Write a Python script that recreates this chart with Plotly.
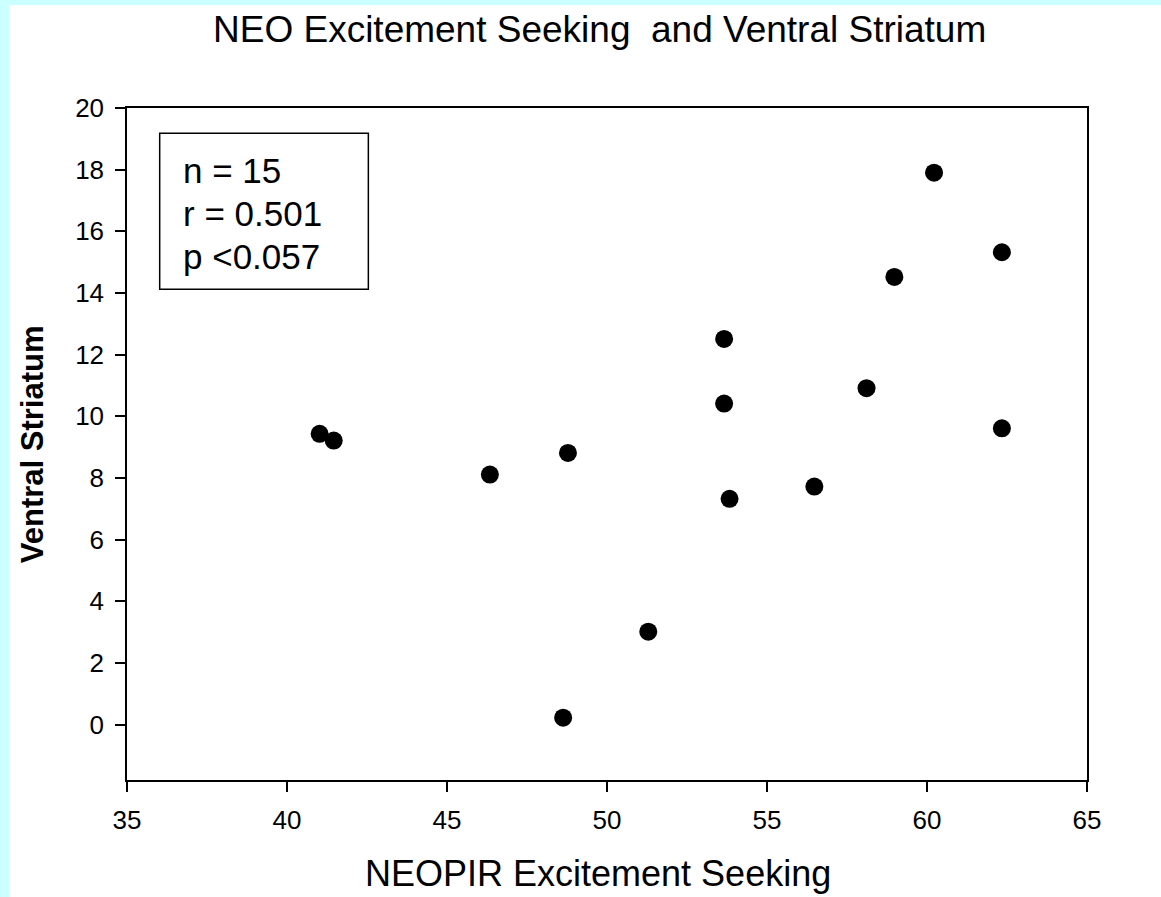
import plotly.graph_objects as go

# Data
excitement_seeking = [41.02, 41.46, 46.34, 48.78, 48.63, 51.29, 53.66, 53.66,
                      53.83, 56.48, 58.11, 60.22, 58.98, 62.34, 62.34]
ventral_striatum = [9.43, 9.21, 8.11, 8.81, 0.22, 3.01, 12.51, 10.41,
                    7.32, 7.72, 10.91, 17.90, 14.52, 15.32, 9.61]
x_ticks = [35, 40, 45, 50, 55, 60, 65]
y_ticks = [0, 2, 4, 6, 8, 10, 12, 14, 16, 18, 20]
stats_lines = ["n = 15", "r = 0.501", "p <0.057"]

W, H = 1161, 897
L, R, T, B = 127.3, 1087.5, 108, 780

def px2paper_x(px):
    return (px - L) / (R - L)

def px2paper_y(py):
    return (B - py) / (B - T)

fig = go.Figure()
fig.add_trace(go.Scatter(
    x=excitement_seeking, y=ventral_striatum, mode="markers",
    marker=dict(size=18, color="black", line=dict(width=0)),
    showlegend=False, hoverinfo="x+y"))

font_family = "Liberation Sans, Arial, sans-serif"

axis_common = dict(
    showline=True, linecolor="black", linewidth=1.5, mirror=True,
    ticks="outside", ticklen=10, tickwidth=1.5, tickcolor="black",
    showgrid=False, zeroline=False,
    tickfont=dict(family=font_family, size=26, color="black"),
    ticklabelstandoff=6,
)

fig.update_layout(
    width=W, height=H,
    margin=dict(l=L, r=W - R, t=T, b=H - B, pad=0),
    paper_bgcolor="#CCFFFF", plot_bgcolor="white",
    xaxis=dict(range=[35, 65], tickvals=x_ticks, **axis_common),
    yaxis=dict(range=[-1.8, 20], tickvals=y_ticks, **axis_common),
    showlegend=False,
)

# white page area (cyan strip on left and top)
fig.add_shape(type="rect", xref="paper", yref="paper",
              x0=px2paper_x(10), x1=px2paper_x(1200),
              y0=px2paper_y(950), y1=px2paper_y(5),
              fillcolor="white", line=dict(width=0), layer="below")

# stats box
fig.add_shape(type="rect", xref="paper", yref="paper",
              x0=px2paper_x(160), x1=px2paper_x(368.7),
              y0=px2paper_y(289.3), y1=px2paper_y(133.3),
              line=dict(color="black", width=1.5), fillcolor="rgba(0,0,0,0)")

line_centers = [170, 213, 256]
for txt, cy in zip(stats_lines, line_centers):
    fig.add_annotation(text=txt, xref="paper", yref="paper",
                       x=px2paper_x(181.7), y=px2paper_y(cy),
                       xanchor="left", yanchor="middle", showarrow=False,
                       font=dict(family=font_family, size=35, color="black"))

# titles
fig.add_annotation(text="NEO Excitement Seeking  and Ventral Striatum",
                   xref="paper", yref="paper",
                   x=px2paper_x(600), y=px2paper_y(30),
                   xanchor="center", yanchor="middle", showarrow=False,
                   font=dict(family=font_family, size=37, color="black"))
fig.add_annotation(text="NEOPIR Excitement Seeking",
                   xref="paper", yref="paper",
                   x=px2paper_x(598), y=px2paper_y(873),
                   xanchor="center", yanchor="middle", showarrow=False,
                   font=dict(family=font_family, size=36, color="black"))
fig.add_annotation(text="<b>Ventral Striatum</b>",
                   xref="paper", yref="paper",
                   x=px2paper_x(33), y=px2paper_y(444.5),
                   xanchor="center", yanchor="middle", showarrow=False,
                   textangle=-90,
                   font=dict(family=font_family, size=31, color="black"))

fig.write_html("out.html")
